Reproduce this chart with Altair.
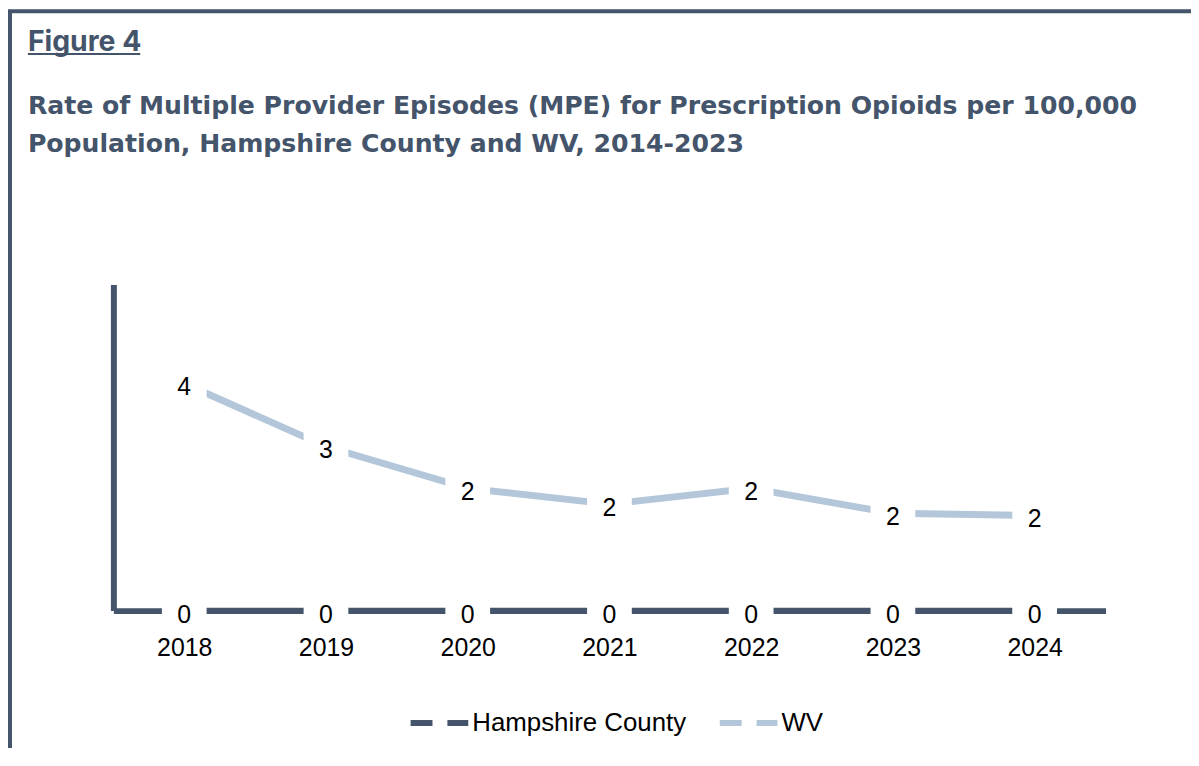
import altair as alt
import pandas as pd

years = ["2018", "2019", "2020", "2021", "2022", "2023", "2024"]
hampshire = [0, 0, 0, 0, 0, 0, 0]
wv = [4.18, 3.02, 2.25, 1.96, 2.25, 1.79, 1.75]
series = ["Hampshire County", "WV"]
colors = ["#44546A", "#B4C7DA"]
fig_label = "Figure 4"
title_lines = [
    "Rate of Multiple Provider Episodes (MPE) for Prescription Opioids per 100,000",
    "Population, Hampshire County and WV, 2014-2023",
]

rows = []
for s, vals in zip(series, [hampshire, wv]):
    for yr, v in zip(years, vals):
        rows.append({"Year": yr, "Series": s, "Rate": v})
df = pd.DataFrame(rows)

W, H = 998, 328
PL, PT, PR, PB = 106, 276, 86, 136
DARK = "#44546A"

x = alt.X(
    "Year:O", sort=years, scale=alt.Scale(padding=0.5),
    axis=alt.Axis(title=None, labelAngle=0, ticks=False, grid=False,
                  domainColor=DARK, domainWidth=6,
                  labelFont="Liberation Sans", labelFontSize=25,
                  labelColor="#000000", labelPadding=25),
)
y = alt.Y(
    "Rate:Q", scale=alt.Scale(domain=[0, 6], nice=False),
    axis=alt.Axis(title=None, labels=False, ticks=False, grid=False,
                  domainColor=DARK, domainWidth=6),
)
color = alt.Color(
    "Series:N", scale=alt.Scale(domain=series, range=colors),
    legend=alt.Legend(title=None, orient="none", legendX=296, legendY=409,
                      direction="horizontal", symbolType="stroke",
                      symbolSize=3364, symbolStrokeWidth=6, symbolDash=[22, 15],
                      labelFont="Liberation Sans", labelFontSize=26,
                      labelColor="#000000", labelOffset=1, columnPadding=21,
                      labelLimit=400, padding=0),
)

base = alt.Chart(df)
line_h = base.transform_filter(alt.datum.Series == "Hampshire County").mark_line(
    strokeWidth=6, strokeCap="butt").encode(x=x, y=y, color=color)
line_w = base.transform_filter(alt.datum.Series == "WV").mark_line(
    strokeWidth=7, strokeCap="butt").encode(x=x, y=y, color=color)
boxes = base.mark_point(
    shape="M-1,-0.65L1,-0.65L1,0.65L-1,0.65Z", size=2025,
    filled=True, color="white", opacity=1, strokeWidth=0
).encode(x=x, y=y)
labels = base.mark_text(
    font="Liberation Sans", fontSize=25, color="#000000", baseline="middle",
    align="center", dy=4
).encode(x=x, y=y, text=alt.Text("Rate:Q", format=".0f"))

one = pd.DataFrame({"k": [0]})
frame = alt.Chart(one).mark_rect(fillOpacity=0, stroke=DARK, strokeWidth=4).encode(
    x=alt.value(-104), x2=alt.value(1200), y=alt.value(-275), y2=alt.value(800))

fig_txt = alt.Chart(pd.DataFrame({"t": [fig_label]})).mark_text(
    font="Inter", fontWeight="bold", fontSize=28.5, color=DARK,
    align="left", baseline="alphabetic").encode(
    text="t:N", x=alt.value(-86), y=alt.value(-235))
underline = alt.Chart(one).mark_rule(color=DARK, strokeWidth=2).encode(
    x=alt.value(-86), x2=alt.value(27), y=alt.value(-232))
t1 = alt.Chart(pd.DataFrame({"t": [title_lines[0]]})).mark_text(
    font="DejaVu Sans", fontWeight="bold", fontSize=25.3, color=DARK,
    align="left", baseline="alphabetic").encode(
    text="t:N", x=alt.value(-86), y=alt.value(-172))
t2 = alt.Chart(pd.DataFrame({"t": [title_lines[1]]})).mark_text(
    font="DejaVu Sans", fontWeight="bold", fontSize=25.3, color=DARK,
    align="left", baseline="alphabetic").encode(
    text="t:N", x=alt.value(-86), y=alt.value(-133))

chart = alt.layer(
    frame, fig_txt, underline, t1, t2, line_h, line_w, boxes, labels
).properties(
    width=W, height=H,
    padding={"left": PL, "top": PT, "right": PR, "bottom": PB},
    autosize=alt.AutoSizeParams(type="none"),
    background="white",
).configure_view(strokeWidth=0)

chart.save("out.html", embed_options={"renderer": "svg", "actions": False})
